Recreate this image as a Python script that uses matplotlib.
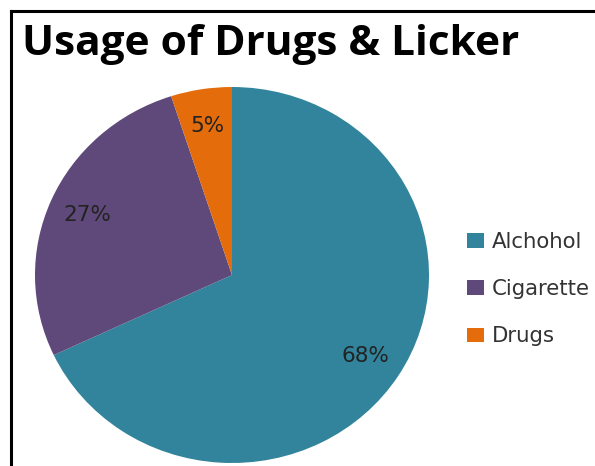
import matplotlib
matplotlib.use('Agg')
import matplotlib.pyplot as plt
from matplotlib.patches import Patch
from matplotlib.lines import Line2D

plt.rcParams['font.family'] = ['DejaVu Sans']

labels = ['Alchohol', 'Cigarette', 'Drugs']
values = [68, 27, 5]
colors = ['#31849B', '#5F497A', '#E46C0A']

W, H = 595, 466
fig = plt.figure(figsize=(W / 100, H / 100), dpi=100)

# pie is a bit squashed vertically in the original
cx, cy, rx, ry = 232, 275, 197, 188
ax = fig.add_axes([(cx - rx) / W, (H - cy - ry) / H, 2 * rx / W, 2 * ry / H])
wedges, texts, autotexts = ax.pie(values, colors=colors, startangle=90, counterclock=False,
                                  autopct='%1.0f%%', pctdistance=0.8,
                                  textprops={'fontsize': 15.5, 'color': '#222222'})
ax.set_xlim(-1, 1)
ax.set_ylim(-1, 1)
ax.set_aspect('auto')

fig.text(22 / W, 1 - 55 / H, 'Usage of Drugs & Licker', fontsize=30.5, fontweight='bold',
         family=['Open Sans', 'DejaVu Sans'], ha='left', va='baseline')

handles = [Patch(facecolor=c, edgecolor='none') for c in colors]
fig.legend(handles, labels, loc='upper left', bbox_to_anchor=(467 / W, 1 - 232 / H),
           frameon=False, fontsize=15.3, handlelength=0.8, handleheight=0.7,
           handletextpad=0.35, labelspacing=1.28, borderaxespad=0, borderpad=0,
           labelcolor='#333333')

# chart border (only top and left edges are visible)
fig.add_artist(Line2D([11 / W, 11 / W], [0, 1 - 11 / H], color='black', lw=2.2,
                      transform=fig.transFigure))
fig.add_artist(Line2D([11 / W, 1], [1 - 11 / H, 1 - 11 / H], color='black', lw=2.2,
                      transform=fig.transFigure))

fig.savefig('out.png', dpi=100)
